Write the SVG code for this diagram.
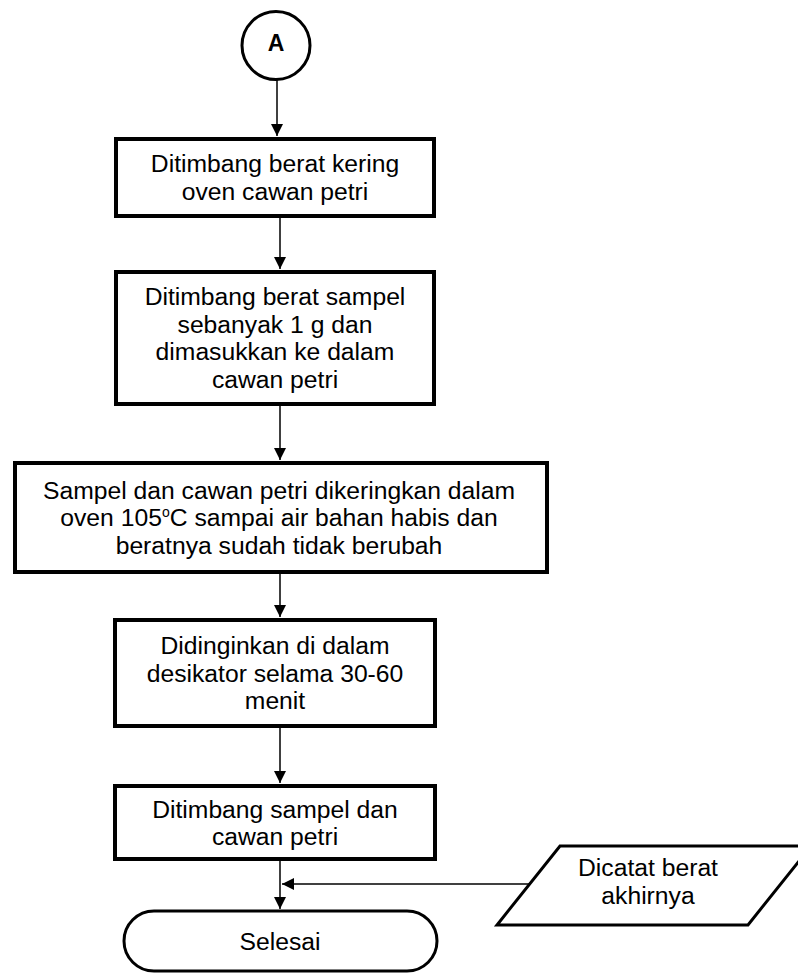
<svg xmlns="http://www.w3.org/2000/svg" width="798" height="976" viewBox="0 0 798 976">
<style>
.box{fill:#fff;stroke:#000;stroke-width:4}
.term{fill:#fff;stroke:#000;stroke-width:3}
.t{font-family:"Liberation Sans",Arial,sans-serif;font-size:24.7px;fill:#000;text-anchor:middle}
.b{font-weight:bold;font-size:23px}
.c{fill:none;stroke:#000;stroke-width:1.5}
</style>
<defs>
<marker id="ah" viewBox="0 0 12 12" refX="12" refY="6" markerWidth="12" markerHeight="12" markerUnits="userSpaceOnUse" orient="auto">
<path d="M0,0 L12,6 L0,12 Z" fill="#000"/>
</marker>
</defs>
<rect width="798" height="976" fill="#fff"/>
<g id="connectors">
<line class="c" x1="277" y1="80" x2="277" y2="136" marker-end="url(#ah)"/>
<line class="c" x1="280" y1="217" x2="280" y2="269" marker-end="url(#ah)"/>
<line class="c" x1="280" y1="405" x2="280" y2="460" marker-end="url(#ah)"/>
<line class="c" x1="280" y1="573" x2="280" y2="617" marker-end="url(#ah)"/>
<line class="c" x1="280" y1="727" x2="280" y2="783" marker-end="url(#ah)"/>
<line class="c" x1="280" y1="860" x2="280" y2="909" marker-end="url(#ah)"/>
<line class="c" x1="530" y1="884" x2="282" y2="884" marker-end="url(#ah)"/>
</g>
<g id="nodeA">
<circle cx="276" cy="45.5" r="34" class="term"/>
<text class="t b" x="276" y="51">A</text>
</g>
<g id="n1">
<rect class="box" x="116" y="139" width="318" height="77"/>
<text class="t" x="275" y="171.5">Ditimbang berat kering</text>
<text class="t" x="275" y="199.5">oven cawan petri</text>
</g>
<g id="n2">
<rect class="box" x="116" y="272" width="318" height="132"/>
<text class="t" x="275" y="305">Ditimbang berat sampel</text>
<text class="t" x="275" y="332.5">sebanyak 1 g dan</text>
<text class="t" x="275" y="360">dimasukkan ke dalam</text>
<text class="t" x="275" y="387.5">cawan petri</text>
</g>
<g id="n3">
<rect class="box" x="15" y="463" width="532" height="109"/>
<text class="t" x="279" y="498.5">Sampel dan cawan petri dikeringkan dalam</text>
<text class="t" x="279" y="526">oven 105<tspan font-size="14" dy="-9">o</tspan><tspan dy="9">C sampai air bahan habis dan</tspan></text>
<text class="t" x="279" y="553.5">beratnya sudah tidak berubah</text>
</g>
<g id="n4">
<rect class="box" x="115" y="620" width="320" height="106"/>
<text class="t" x="275" y="654">Didinginkan di dalam</text>
<text class="t" x="275" y="681.5">desikator selama 30-60</text>
<text class="t" x="275" y="709">menit</text>
</g>
<g id="n5">
<rect class="box" x="115" y="786" width="320" height="73"/>
<text class="t" x="275" y="817.5">Ditimbang sampel dan</text>
<text class="t" x="275" y="845">cawan petri</text>
</g>
<g id="n6">
<rect class="term" x="124" y="911" width="313" height="60" rx="30" ry="30"/>
<text class="t" x="280" y="949.5">Selesai</text>
</g>
<g id="n7">
<polygon class="term" points="560,846 811,846 748,925 497,925"/>
<text class="t" x="648" y="875.5">Dicatat berat</text>
<text class="t" x="648" y="903.5">akhirnya</text>
</g>
</svg>
